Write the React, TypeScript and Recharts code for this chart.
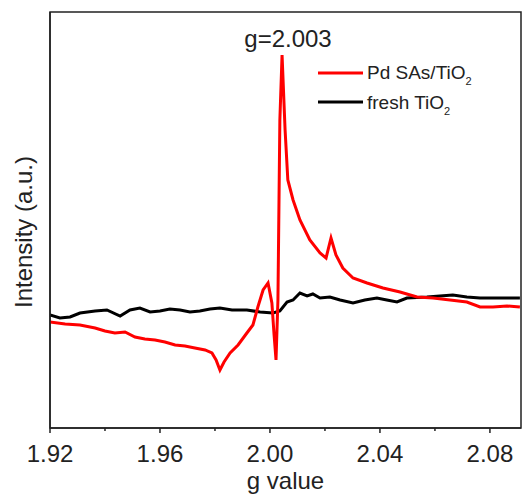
import { LineChart, Line, XAxis, YAxis, ReferenceArea } from "recharts";

// red: Pd SAs/TiO2
const pdG = [1.92, 1.9255, 1.9309, 1.9364, 1.94, 1.9436, 1.9473, 1.9509, 1.9545, 1.9582, 1.9618, 1.9655, 1.9691, 1.9727, 1.9764, 1.9789, 1.9804, 1.9818, 1.9833, 1.9855, 1.9884, 1.9916, 1.9938, 1.9956, 1.9975, 1.9993, 2.0007, 2.0015, 2.0022, 2.0029, 2.0036, 2.0044, 2.0055, 2.0065, 2.0084, 2.0109, 2.0145, 2.0182, 2.0204, 2.0222, 2.024, 2.0265, 2.0302, 2.0353, 2.0411, 2.0473, 2.0535, 2.0593, 2.0655, 2.0716, 2.0764, 2.0811, 2.0862, 2.0909];
const pdI = [106, 104, 103, 100, 97, 95, 96, 91, 89, 88, 86, 83, 82, 80, 78, 75, 68, 58, 66, 75, 83, 95, 103, 121, 138, 145, 125, 93, 68, 128, 308, 373, 298, 248, 228, 208, 188, 175, 170, 190, 173, 160, 150, 145, 140, 136, 131, 130, 128, 126, 121, 121, 122, 121];

// black: fresh TiO2
const freshG = [1.92, 1.9236, 1.9273, 1.9309, 1.9364, 1.9407, 1.9455, 1.9491, 1.9527, 1.9564, 1.96, 1.9636, 1.9673, 1.9709, 1.9745, 1.9782, 1.9818, 1.9862, 1.9916, 1.9964, 2.0011, 2.0036, 2.0062, 2.0084, 2.0109, 2.0135, 2.0156, 2.0182, 2.0218, 2.0255, 2.0302, 2.0345, 2.0389, 2.0425, 2.0462, 2.0498, 2.0571, 2.0618, 2.0665, 2.0716, 2.0764, 2.0836, 2.0909];
const freshI = [113, 110, 111, 115, 117, 118, 112, 118, 120, 116, 117, 119, 118, 116, 117, 119, 120, 118, 118, 116, 115, 117, 126, 128, 135, 132, 134, 130, 131, 128, 125, 128, 130, 128, 126, 130, 131, 132, 133, 131, 130, 130, 130];

const majorTicks = [1.92, 1.96, 2.0, 2.04, 2.08];
const minorTicks = [1.94, 1.98, 2.02, 2.06];

const pdData = pdG.map((g, i) => ({ g, v: pdI[i] }));
const freshData = freshG.map((g, i) => ({ g, v: freshI[i] }));

const FONT = '"Liberation Sans", Arial, sans-serif';

function GTick(props: any) {
    const { x, y, payload } = props;
    const isMajor = majorTicks.some((t) => Math.abs(t - payload.value) < 1e-6);
    return (
        <g>
            <line x1={x} x2={x} y1={y} y2={y + (isMajor ? 5 : 3)} stroke="#222" strokeWidth={1.5} />
            {isMajor && (
                <text x={x} y={y + 34} textAnchor="middle" fontSize={24} fill="#222" fontFamily={FONT}>
                    {payload.value.toFixed(2)}
                </text>
            )}
        </g>
    );
}

function YLabel() {
    return (
        <text x={32} y={232} transform="rotate(-90, 32, 232)" textAnchor="middle" fontSize={24} fill="#222" fontFamily={FONT}>
            Intensity (a.u.)
        </text>
    );
}

export default function App() {
    return (
        <div style={{ position: "absolute", left: 0, top: 0, width: 525, height: 497, background: "#fff" }}>
            <LineChart width={525} height={497} margin={{ top: 12, right: 4, left: 0, bottom: 0 }}>
                <XAxis
                    dataKey="g"
                    type="number"
                    domain={[1.92, 2.0913]}
                    ticks={[...majorTicks, ...minorTicks].sort()}
                    interval={0}
                    tickSize={0}
                    tickMargin={0}
                    tickLine={false}
                    tick={<GTick />}
                    height={69}
                    allowDataOverflow
                    axisLine={{ stroke: "#222", strokeWidth: 1.5 }}
                    label={{ value: "g value", position: "insideBottom", offset: 8, fontSize: 24, fill: "#222", fontFamily: FONT }}
                />
                <YAxis
                    dataKey="v"
                    type="number"
                    domain={[0, 416]}
                    tick={false}
                    tickLine={false}
                    width={50}
                    axisLine={{ stroke: "#222", strokeWidth: 1.5 }}
                    label={{ content: () => <YLabel /> }}
                />
                <ReferenceArea x1={1.92} x2={2.0913} y1={0} y2={416} fill="none" stroke="#222" strokeWidth={1.5} />
                <Line data={freshData} dataKey="v" type="linear" stroke="#000" strokeWidth={3} dot={false} isAnimationActive={false} />
                <Line data={pdData} dataKey="v" type="linear" stroke="#f00" strokeWidth={3} dot={false} isAnimationActive={false} />
            </LineChart>
            <svg width={525} height={497} style={{ position: "absolute", left: 0, top: 0, pointerEvents: "none" }}>
                <text x={288} y={47} textAnchor="middle" fontSize={24} fill="#222" fontFamily={FONT}>g=2.003</text>
                <line x1={318} x2={363} y1={73} y2={73} stroke="#f00" strokeWidth={3} />
                <text x={367} y={79} fontSize={19} fill="#222" fontFamily={FONT}>
                    Pd SAs/TiO<tspan fontSize={11} dy={6}>2</tspan>
                </text>
                <line x1={318} x2={363} y1={102} y2={102} stroke="#000" strokeWidth={3} />
                <text x={367} y={109} fontSize={19} fill="#222" fontFamily={FONT}>
                    fresh TiO<tspan fontSize={11} dy={6}>2</tspan>
                </text>
            </svg>
        </div>
    );
}
